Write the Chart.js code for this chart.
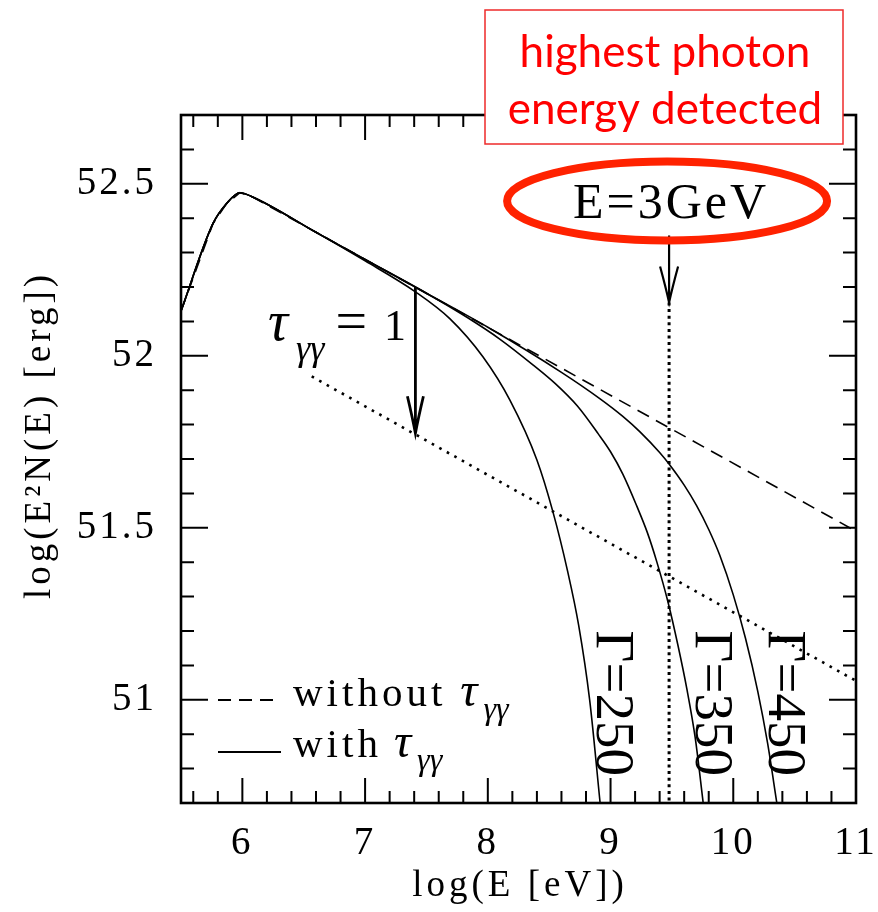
<!DOCTYPE html>
<html>
<head>
<meta charset="utf-8">
<script src="https://cdn.jsdelivr.net/npm/chart.js@4.4.1/dist/chart.umd.min.js"></script>
<style>
  html, body { margin: 0; padding: 0; background: #fff; }
  canvas { display: block; }
</style>
</head>
<body>
<canvas id="spectrum" width="878" height="912"></canvas>
<script>
// x: log10(E / eV), y: log10(E^2 N(E) / erg)
const xRange = [5.5, 11];
const yRange = [50.7, 52.7];
const xTicks = [6, 7, 8, 9, 10, 11];
const yTicks = [51, 51.5, 52, 52.5];

// spectrum without pair absorption
const noTauX = [5.5, 5.76, 5.87, 5.98, 6.07, 11];
const noTauY = [52.13, 52.384, 52.442, 52.474, 52.464, 51.49];

// spectra with tau_gamma-gamma for three bulk Lorentz factors
const g250X = [5.5, 5.76, 5.87, 5.98, 6.07, 6.6, 7.0, 7.41, 7.69, 7.96, 8.18, 8.4, 8.53, 8.65, 8.74, 8.83, 8.915];
const g250Y = [52.13, 52.384, 52.442, 52.474, 52.464, 52.359, 52.276, 52.186, 52.108, 51.997, 51.871, 51.697, 51.547, 51.374, 51.217, 50.999, 50.70];

const g350X = [5.5, 5.76, 5.87, 5.98, 6.07, 6.6, 7.0, 7.5, 7.83, 8.1, 8.37, 8.55, 8.73, 8.9, 9.0, 9.1, 9.214, 9.3, 9.377, 9.469, 9.55, 9.621, 9.69, 9.755];
const g350Y = [52.13, 52.384, 52.442, 52.474, 52.464, 52.359, 52.28, 52.182, 52.112, 52.048, 51.973, 51.919, 51.854, 51.773, 51.721, 51.656, 51.563, 51.486, 51.401, 51.283, 51.157, 51.033, 50.889, 50.70];

const g450X = [5.5, 5.76, 5.87, 5.98, 6.07, 6.6, 7.0, 7.5, 8.0, 8.6, 8.915, 9.1, 9.24, 9.4, 9.48, 9.6, 9.7, 9.8, 9.89, 10.0, 10.1, 10.2, 10.28, 10.355];
const g450Y = [52.13, 52.384, 52.442, 52.474, 52.464, 52.359, 52.28, 52.182, 52.083, 51.952, 51.875, 51.824, 51.779, 51.719, 51.684, 51.624, 51.565, 51.495, 51.42, 51.305, 51.178, 51.024, 50.873, 50.70];

// tau = 1 locus
const tauOneX = [6.565, 11];
const tauOneY = [51.94, 51.055];

// highest detected photon, E = 3 GeV
const eMaxX = 9.477;
const eMaxArrow = [52.35, 52.155];   // shaft top, arrow tip
const tauArrowX = 7.41;
const tauArrow = [52.2, 51.775];

const gammaLabels = ["\u0393=250", "\u0393=350", "\u0393=450"];
const gammaLabelX = [9.04, 9.84, 10.44];
const gammaLabelY = 50.99;

const SERIF = "'Liberation Serif', 'Times New Roman', serif";

function pts(xs, ys) {
  return xs.map((x, i) => ({ x: x, y: ys[i] }));
}

function curve(xs, ys, width, dash, smooth) {
  return {
    data: pts(xs, ys),
    showLine: true,
    borderColor: "#000",
    borderWidth: width,
    borderDash: dash || [],
    pointRadius: 0,
    tension: 0,
    cubicInterpolationMode: smooth ? "monotone" : "default",
  };
}

// text with italic greek parts and subscripts
function richText(ctx, parts, x, y) {
  let cx = x;
  parts.forEach((p) => {
    ctx.font = (p.italic ? "italic " : "") + p.size + "px " + SERIF;
    ctx.letterSpacing = (p.ls || 0) + "px";
    ctx.fillText(p.t, cx + (p.dx || 0), y + (p.dy || 0));
    cx += (p.dx || 0) + ctx.measureText(p.t).width;
  });
  ctx.letterSpacing = "0px";
}

// box outline and inward ticks on all four sides
const frameTicks = {
  id: "frameTicks",
  beforeDraw(chart) {
    chart.ctx.letterSpacing = "3px";
  },
  afterDatasetsDraw(chart) {
    const { ctx, chartArea: a, scales } = chart;
    ctx.save();
    ctx.letterSpacing = "0px";
    ctx.strokeStyle = "#000";
    ctx.lineWidth = 2;
    ctx.beginPath();
    for (let i = 28; i <= 55; i++) {
      const px = scales.x.getPixelForValue(i / 5);
      const len = i % 5 === 0 ? 25 : 12;
      ctx.moveTo(px, a.bottom); ctx.lineTo(px, a.bottom - len);
      ctx.moveTo(px, a.top); ctx.lineTo(px, a.top + len);
    }
    for (let i = 508; i <= 526; i++) {
      const py = scales.y.getPixelForValue(i / 10);
      const len = i % 5 === 0 ? 27 : 13;
      ctx.moveTo(a.left, py); ctx.lineTo(a.left + len, py);
      ctx.moveTo(a.right, py); ctx.lineTo(a.right - len, py);
    }
    ctx.stroke();
    ctx.lineWidth = 2.6;
    ctx.strokeRect(a.left, a.top, a.right - a.left, a.bottom - a.top);
    ctx.restore();
  },
};

function arrow(ctx, x, yTop, yTip, head, half) {
  ctx.beginPath();
  ctx.moveTo(x, yTop);
  ctx.lineTo(x, yTip);
  ctx.moveTo(x - half, yTip - head);
  ctx.quadraticCurveTo(x - half * 0.35, yTip - head * 0.4, x, yTip);
  ctx.quadraticCurveTo(x + half * 0.35, yTip - head * 0.4, x + half, yTip - head);
  ctx.stroke();
}

const notes = {
  id: "notes",
  afterDraw(chart) {
    const { ctx, scales } = chart;
    const X = (v) => scales.x.getPixelForValue(v);
    const Y = (v) => scales.y.getPixelForValue(v);
    ctx.save();
    ctx.fillStyle = "#000";
    ctx.strokeStyle = "#000";
    ctx.lineCap = "butt";

    // arrows
    ctx.lineWidth = 2.8;
    arrow(ctx, X(tauArrowX), Y(tauArrow[0]), Y(tauArrow[1]), 37, 8);
    ctx.lineWidth = 2.2;
    arrow(ctx, X(eMaxX), Y(eMaxArrow[0]), Y(eMaxArrow[1]), 36, 9);

    // axis titles
    ctx.textBaseline = "alphabetic";
    ctx.textAlign = "center";
    ctx.font = "37px " + SERIF;
    ctx.letterSpacing = "4px";
    ctx.fillText("log(E [eV])", 520, 896);
    ctx.save();
    ctx.translate(50, 435);
    ctx.rotate(-Math.PI / 2);
    ctx.fillText("log(E\u00b2N(E) [erg])", 0, 0);
    ctx.restore();
    ctx.letterSpacing = "0px";

    // tau = 1 label
    ctx.textAlign = "left";
    richText(ctx, [
      { t: "\u03c4", italic: true, size: 56 },
      { t: "\u03b3\u03b3", italic: true, size: 36, dy: 20, dx: 8 },
      { t: "=", size: 56, dx: 11 },
      { t: "1", size: 44, dx: 17 },
    ], 268, 340);

    // legend
    ctx.lineWidth = 2;
    ctx.setLineDash([13, 8]);
    ctx.beginPath(); ctx.moveTo(218, 700); ctx.lineTo(277, 700); ctx.stroke();
    ctx.setLineDash([]);
    ctx.beginPath(); ctx.moveTo(218, 752); ctx.lineTo(281, 752); ctx.stroke();
    richText(ctx, [
      { t: "without", size: 41, ls: 4 },
      { t: "\u03c4", italic: true, size: 48, dx: 14 },
      { t: "\u03b3\u03b3", italic: true, size: 32, dy: 13, dx: 6 },
    ], 293, 706);
    richText(ctx, [
      { t: "with", size: 41, ls: 4 },
      { t: "\u03c4", italic: true, size: 48, dx: 12 },
      { t: "\u03b3\u03b3", italic: true, size: 32, dy: 13, dx: 6 },
    ], 293, 757);

    // Lorentz factor labels, running downwards
    ctx.font = "55px " + SERIF;
    ctx.textAlign = "center";
    gammaLabels.forEach((s, i) => {
      ctx.save();
      ctx.translate(X(gammaLabelX[i]), Y(gammaLabelY));
      ctx.rotate(Math.PI / 2);
      ctx.fillText(s, 0, 18);
      ctx.restore();
    });

    // E = 3 GeV marker
    const ex = X(eMaxX);
    ctx.font = "50px " + SERIF;
    ctx.letterSpacing = "3px";
    ctx.fillText("E=3GeV", ex + 2, 218);
    ctx.letterSpacing = "0px";
    ctx.strokeStyle = "#ff2200";
    ctx.lineWidth = 8;
    ctx.beginPath();
    ctx.ellipse(ex - 2, 201, 160, 39.5, 0, 0, Math.PI * 2);
    ctx.stroke();

    // callout box
    ctx.fillStyle = "#fff";
    ctx.fillRect(485, 10, 358, 134);
    ctx.strokeStyle = "#ee2a2a";
    ctx.lineWidth = 1.5;
    ctx.strokeRect(485, 10, 358, 134);
    ctx.fillStyle = "#ff0000";
    ctx.font = "44px Lato, 'Open Sans', sans-serif";
    ctx.fillText("highest photon", 665, 67);
    ctx.fillText("energy detected", 665, 124);
    ctx.restore();
  },
};

new Chart(document.getElementById("spectrum"), {
  type: "scatter",
  data: {
    datasets: [
      curve(tauOneX, tauOneY, 2.6, [2.6, 6]),
      curve([eMaxX, eMaxX], [eMaxArrow[1], yRange[0]], 3, [3, 3.6]),
      curve(noTauX, noTauY, 1.6, [13, 8]),
      curve(g250X, g250Y, 1.6, null, true),
      curve(g350X, g350Y, 1.6, null, true),
      curve(g450X, g450Y, 1.6, null, true),
    ],
  },
  options: {
    responsive: false,
    animation: false,
    events: [],
    layout: { padding: { top: 115, right: 22, left: 0, bottom: 0 } },
    plugins: { legend: { display: false }, tooltip: { enabled: false } },
    scales: {
      x: {
        type: "linear",
        min: xRange[0],
        max: xRange[1],
        border: { display: false },
        grid: { display: false, drawTicks: false },
        afterBuildTicks(s) { s.ticks = xTicks.map((v) => ({ value: v })); },
        ticks: {
          padding: 17,
          maxRotation: 0,
          color: "#000",
          font: { family: SERIF, size: 39 },
          callback: (v) => String(v),
        },
        afterFit(s) { s.height = 109; s.paddingLeft = 0; s.paddingRight = 0; },
      },
      y: {
        type: "linear",
        min: yRange[0],
        max: yRange[1],
        border: { display: false },
        grid: { display: false, drawTicks: false },
        afterBuildTicks(s) { s.ticks = yTicks.map((v) => ({ value: v })); },
        ticks: {
          padding: 24,
          color: "#000",
          font: { family: SERIF, size: 39 },
          callback: (v) => String(v),
        },
        afterFit(s) { s.width = 181; s.paddingTop = 0; s.paddingBottom = 0; },
      },
    },
  },
  plugins: [frameTicks, notes],
});
</script>
</body>
</html>
